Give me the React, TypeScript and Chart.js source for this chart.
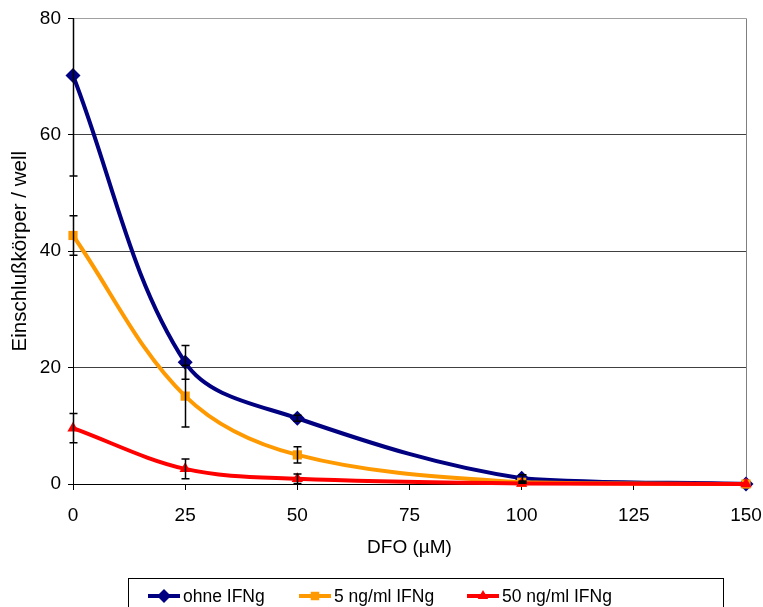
import React, { useEffect, useRef } from "react";
import { Chart, registerables } from "chart.js";

Chart.register(...registerables);

const doses = [0, 25, 50, 100, 150];
const ohneIFNg = [70.2, 20.9, 11.3, 1.0, 0.0];
const ng5IFNg = [42.7, 15.1, 5.0, 0.3, 0.0];
const ng50IFNg = [9.6, 2.6, 0.9, 0.1, 0.0];
const ohneErr = [17.3, 2.9, 0.5, 0.6, 0];
const ng5Err = [3.4, 5.3, 1.4, 0.2, 0];
const ng50Err = [2.5, 1.7, 0.8, 0.1, 0];

const seriesNames = ["ohne IFNg", "5 ng/ml IFNg", "50 ng/ml IFNg"];
const seriesColors = ["#000080", "#FF9900", "#FF0000"];
const seriesMarkers = ["rectRot", "rect", "triangle"];
const yTicks = [0, 20, 40, 60, 80];
const xTicks = [0, 25, 50, 75, 100, 125, 150];

const FONT = "'Liberation Sans', Arial, sans-serif";

function drawMarker(ctx: CanvasRenderingContext2D, style: string, x: number, y: number, r: number) {
  ctx.beginPath();
  if (style === "rectRot") {
    ctx.moveTo(x, y - r);
    ctx.lineTo(x + r, y);
    ctx.lineTo(x, y + r);
    ctx.lineTo(x - r, y);
  } else if (style === "rect") {
    const s = r * Math.SQRT1_2;
    ctx.rect(x - s, y - s, 2 * s, 2 * s);
  } else {
    ctx.moveTo(x, y - r);
    ctx.lineTo(x + r * 0.87, y + r * 0.5);
    ctx.lineTo(x - r * 0.87, y + r * 0.5);
  }
  ctx.closePath();
  ctx.fill();
}

const errorBarPlugin = {
  id: "errorBars",
  afterDatasetsDraw(chart: any) {
    const { ctx, chartArea, scales } = chart;
    const xs = scales.x;
    const ys = scales.y;
    const sets = [
      [ohneIFNg, ohneErr],
      [ng5IFNg, ng5Err],
      [ng50IFNg, ng50Err],
    ];
    ctx.save();
    ctx.beginPath();
    ctx.rect(0, chartArea.top, chart.width, chartArea.bottom - chartArea.top);
    ctx.clip();
    ctx.strokeStyle = "#000";
    ctx.lineWidth = 1.5;
    sets.forEach(([vals, errs]) => {
      vals.forEach((v: number, i: number) => {
        const e = errs[i];
        if (!e) return;
        const px = Math.round(xs.getPixelForValue(doses[i])) + 0.5;
        const top = ys.getPixelForValue(v + e);
        const bot = ys.getPixelForValue(v - e);
        ctx.beginPath();
        ctx.moveTo(px, top);
        ctx.lineTo(px, bot);
        ctx.moveTo(px - 4, top);
        ctx.lineTo(px + 4, top);
        ctx.moveTo(px - 4, bot);
        ctx.lineTo(px + 4, bot);
        ctx.stroke();
      });
    });
    ctx.restore();
  },
};

const legendPlugin = {
  id: "boxLegend",
  afterDraw(chart: any) {
    const { ctx } = chart;
    ctx.save();
    ctx.strokeStyle = "#000";
    ctx.lineWidth = 1;
    ctx.strokeRect(128.5, 578.5, 595, 40);
    const lineStarts = [148, 299, 467];
    const cy = 596;
    ctx.font = `17.5px ${FONT}`;
    ctx.textBaseline = "middle";
    ctx.textAlign = "left";
    seriesNames.forEach((name, i) => {
      const x0 = lineStarts[i];
      ctx.strokeStyle = seriesColors[i];
      ctx.fillStyle = seriesColors[i];
      ctx.lineWidth = 4;
      ctx.beginPath();
      ctx.moveTo(x0, cy);
      ctx.lineTo(x0 + 32, cy);
      ctx.stroke();
      drawMarker(ctx, seriesMarkers[i], x0 + 16, cy, i === 0 ? 7 : 6);
      ctx.fillStyle = "#000";
      ctx.fillText(name, x0 + 35, cy + 1);
    });
    ctx.restore();
  },
};

export default function App() {
  const ref = useRef<HTMLCanvasElement | null>(null);
  useEffect(() => {
    if (!ref.current) return;
    const mk = (vals: number[]) => vals.map((v, i) => ({ x: doses[i], y: v }));
    const allVals = [ohneIFNg, ng5IFNg, ng50IFNg];
    const chart = new Chart(ref.current, {
      type: "line",
      data: {
        datasets: allVals.map((vals, i) => ({
          label: seriesNames[i],
          data: mk(vals),
          borderColor: seriesColors[i],
          backgroundColor: seriesColors[i],
          borderWidth: 4,
          pointStyle: seriesMarkers[i] as any,
          pointRadius: i === 0 ? 7.5 : 6.5,
          pointBorderWidth: 0,
          tension: 0.35,
          fill: false,
          clip: false as any,
          order: 2 - i,
        })),
      },
      options: {
        responsive: false,
        devicePixelRatio: 1,
        animation: false,
        layout: { padding: { top: 17, right: 17, left: 0, bottom: 45 } },
        plugins: { legend: { display: false }, tooltip: { enabled: false } },
        scales: {
          x: {
            type: "linear",
            min: 0,
            max: 150,
            afterBuildTicks: (s: any) => {
              s.ticks = xTicks.map((v) => ({ value: v }));
            },
            afterFit: (s: any) => {
              s.height = 78;
              s.paddingLeft = 0;
              s.paddingRight = 0;
            },
            grid: {
              color: (c: any) => (c.tick && c.tick.value === 150 ? "#808080" : "rgba(0,0,0,0)"),
              tickColor: "#000",
              tickLength: 6,
              lineWidth: 1,
            },
            border: { display: true, color: "#000", width: 1 },
            ticks: {
              color: "#000",
              font: { family: FONT, size: 19 },
              padding: 14,
              maxRotation: 0,
            },
            title: {
              display: true,
              text: "DFO (µM)",
              color: "#000",
              font: { family: FONT, size: 19 },
              padding: { top: 0, bottom: 3 },
            },
          },
          y: {
            type: "linear",
            min: 0,
            max: 80,
            afterBuildTicks: (s: any) => {
              s.ticks = yTicks.map((v) => ({ value: v }));
            },
            afterFit: (s: any) => {
              s.width = 73;
            },
            grid: {
              color: (c: any) =>
                c.tick && c.tick.value === 80 ? "#a0a0a0" : "#404040",
              tickColor: "#000",
              tickLength: 5,
              lineWidth: 1,
            },
            border: { display: true, color: "#000", width: 1 },
            ticks: {
              color: "#000",
              font: { family: FONT, size: 19 },
              padding: 7,
            },
            title: {
              display: true,
              text: "Einschlußkörper / well",
              color: "#000",
              font: { family: FONT, size: 20.5 },
              padding: { top: 8, bottom: 0 },
            },
          },
        },
      },
      plugins: [errorBarPlugin, legendPlugin],
    });
    return () => chart.destroy();
  }, []);
  return (
    <div style={{ position: "fixed", left: 0, top: 0, width: 763, height: 607, background: "#fff" }}>
      <canvas ref={ref} width={763} height={607} style={{ display: "block" }} />
    </div>
  );
}
